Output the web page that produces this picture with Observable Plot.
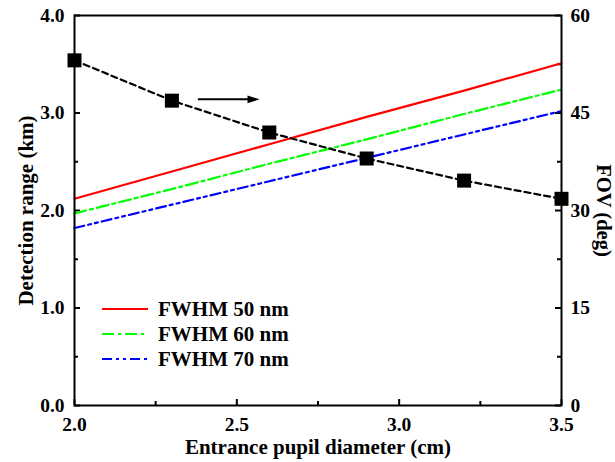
<!DOCTYPE html>
<html><head><meta charset="utf-8">
<script src="https://cdn.jsdelivr.net/npm/d3@7"></script>
<script src="https://cdn.jsdelivr.net/npm/@observablehq/plot@0.6"></script>
<style>body{margin:0;background:#fff}#chart svg{display:block}</style>
</head><body><div id="chart"></div>
<script>
// ---- data ----
const diameter = [2.0, 2.3, 2.6, 2.9, 3.2, 3.5];           // cm
const range50 = [2.12, 2.40, 2.68, 2.96, 3.23, 3.51];        // km
const range60 = [1.97, 2.22, 2.48, 2.73, 2.99, 3.24];        // km
const range70 = [1.82, 2.06, 2.30, 2.54, 2.78, 3.02];        // km
const fov = [53.1, 46.9, 42.0, 38.0, 34.6, 31.8];            // deg
const seriesNames = ["FWHM 50 nm", "FWHM 60 nm", "FWHM 70 nm"];
const seriesColors = ["#ff0000", "#00ff00", "#0000ff"];
const seriesDash = ["none", "12,4,3,4", "10,4,3,4,3,4"];
const xTicks = [2.0, 2.5, 3.0, 3.5];
const xMinor = [2.25, 2.75, 3.25];
const yTicks = [0, 1, 2, 3, 4];
const yMinor = [0.5, 1.5, 2.5, 3.5];
const fovTicks = [0, 15, 30, 45, 60];
const fovMinor = [7.5, 22.5, 37.5, 52.5];
const arrowX = [2.38, 2.57];   // cm
const arrowFov = 47.1;         // deg (arrow points toward right axis)

const kmPerDeg = 4 / 60;
const FONT = "'Liberation Serif', 'Times New Roman', serif";
const W = 615, H = 462, ML = 74, MR = 54, MT = 15, MB = 57;
const PW = W - ML - MR, PH = H - MT - MB;

const seriesValues = [range50, range60, range70];
const rows = seriesNames.flatMap((name, s) =>
  diameter.map((d, i) => ({name, d, v: seriesValues[s][i]})));
const fovRows = diameter.map((d, i) => ({d, f: fov[i]}));
const arrowRows = [{x1: arrowX[0], x2: arrowX[1], f: arrowFov}];

const headSymbol = {
  draw(ctx, size) {
    const s = Math.sqrt(size);
    ctx.moveTo(0, 0);
    ctx.lineTo(-s, -s * 0.32);
    ctx.lineTo(-s, s * 0.32);
    ctx.closePath();
  }
};

const lineMarks = seriesNames.map((name, s) =>
  Plot.line(rows.filter(r => r.name === name), {
    x: "d", y: "v", stroke: seriesColors[s], strokeWidth: 2.2,
    strokeDasharray: seriesDash[s] === "none" ? undefined : seriesDash[s]
  }));

const chart = Plot.plot({
  width: W, height: H,
  marginLeft: ML, marginRight: MR, marginTop: MT, marginBottom: MB,
  style: {fontFamily: FONT, fontWeight: "bold", background: "#fff", color: "#000"},
  x: {domain: [2, 3.5]},
  y: {domain: [0, 4]},
  marks: [
    // tick labels
    Plot.axisX(xTicks, {tickSize: 0, tickPadding: 12, fontSize: 19.5, fontWeight: "bold",
      tickFormat: d3.format(".1f"), label: null}),
    Plot.axisY(yTicks, {anchor: "left", tickSize: 0, tickPadding: 10, fontSize: 19.5,
      fontWeight: "bold", tickFormat: d3.format(".1f"), label: null}),
    Plot.axisY(fovTicks.map(t => t * kmPerDeg), {anchor: "right", tickSize: 0, tickPadding: 9,
      fontSize: 19.5, fontWeight: "bold", tickFormat: d => String(Math.round(d / kmPerDeg)), label: null}),
    // inward ticks
    Plot.tickX(xTicks, {x: d => d, insetTop: PH - 6, strokeWidth: 2}),
    Plot.tickX(xMinor, {x: d => d, insetTop: PH - 4, strokeWidth: 2}),
    Plot.tickY(yTicks, {y: d => d, insetRight: PW - 6, strokeWidth: 2}),
    Plot.tickY(yMinor, {y: d => d, insetRight: PW - 4, strokeWidth: 2}),
    Plot.tickY(fovTicks, {y: d => d * kmPerDeg, insetLeft: PW - 6, strokeWidth: 2}),
    Plot.tickY(fovMinor, {y: d => d * kmPerDeg, insetLeft: PW - 4, strokeWidth: 2}),
    // data
    ...lineMarks,
    Plot.line(fovRows, {x: "d", y: d => d.f * kmPerDeg, stroke: "#000", strokeWidth: 2.2,
      strokeDasharray: "6,4"}),
    Plot.dot(fovRows, {x: "d", y: d => d.f * kmPerDeg, symbol: "square", r: 7.9,
      fill: "#000", stroke: "none"}),
    // arrow annotation
    Plot.link(arrowRows, {x1: "x1", x2: d => d.x2 - 0.02, y1: d => d.f * kmPerDeg,
      y2: d => d.f * kmPerDeg, stroke: "#000", strokeWidth: 2}),
    Plot.dot(arrowRows, {x: "x2", y: d => d.f * kmPerDeg, symbol: headSymbol, r: 6.8,
      fill: "#000", stroke: "none"}),
    // axis titles
    Plot.text(["Entrance pupil diameter (cm)"], {frameAnchor: "bottom", dy: 48,
      textAnchor: "middle", lineAnchor: "bottom", fontSize: 21, fontWeight: "bold", fill: "#000"}),
    Plot.text(["Detection range (km)"], {frameAnchor: "left", dx: -42, rotate: -90,
      textAnchor: "middle", lineAnchor: "bottom", fontSize: 21, fontWeight: "bold", fill: "#000"}),
    Plot.text(["FOV (deg)"], {frameAnchor: "right", dx: 35, rotate: 90,
      textAnchor: "middle", lineAnchor: "bottom", fontSize: 20.5, fontWeight: "bold", fill: "#000"}),
    Plot.frame({stroke: "#000", strokeWidth: 2})
  ]
});

// legend (inside the plot, lower-left)
const svg = d3.select(chart);
const lg = svg.append("g").attr("font-family", FONT).attr("font-weight", "bold")
  .attr("font-size", 21).attr("text-anchor", "start");
seriesNames.forEach((name, s) => {
  const y = MT + PH - 96 + s * 25;
  lg.append("line").attr("x1", ML + 28).attr("x2", ML + 74).attr("y1", y).attr("y2", y)
    .attr("stroke", seriesColors[s]).attr("stroke-width", 2.2)
    .attr("stroke-dasharray", seriesDash[s]);
  lg.append("text").attr("x", ML + 84).attr("y", y + 7).attr("fill", "#000")
    .attr("text-anchor", "start").text(name);
});

document.getElementById("chart").appendChild(chart);
</script>
</body></html>
